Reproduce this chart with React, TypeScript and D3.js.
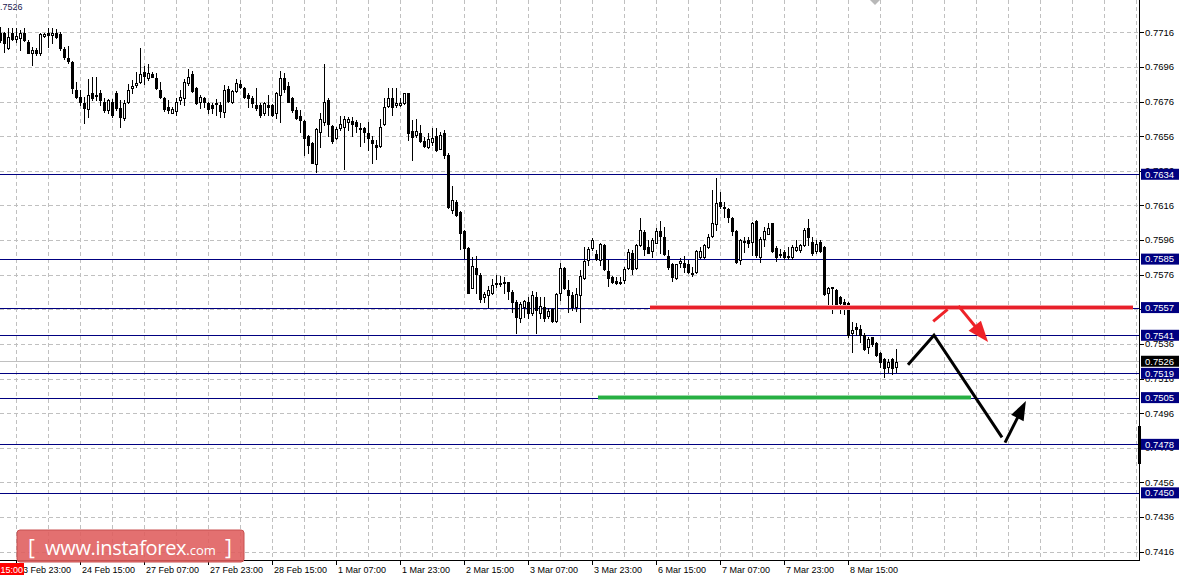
import * as d3 from "d3";

// AUDUSD H1 candles, one bar every 4px
const opens = [
  0.77154, 0.77154, 0.77067, 0.77154, 0.77123, 0.77125, 0.77158, 0.77106, 0.77039, 0.77058,
  0.77039, 0.77139, 0.77154, 0.77146, 0.77154, 0.7715, 0.77062, 0.7701, 0.7699, 0.76827,
  0.76788, 0.76754, 0.76715, 0.76808, 0.768, 0.76808, 0.76759, 0.76711, 0.76759, 0.76808,
  0.76721, 0.76663, 0.76759, 0.76836, 0.76856, 0.76875, 0.76933, 0.76894, 0.76919, 0.76894,
  0.76827, 0.76779, 0.76727, 0.76696, 0.76707, 0.76769, 0.76779, 0.76865, 0.76919, 0.76836,
  0.76759, 0.76779, 0.7675, 0.7674, 0.7675, 0.7674, 0.76702, 0.76831, 0.76759, 0.76823,
  0.76861, 0.7684, 0.76798, 0.76779, 0.7674, 0.7674, 0.76692, 0.7674, 0.7674, 0.76692,
  0.76798, 0.76894, 0.7685, 0.76779, 0.76711, 0.76677, 0.7665, 0.76561, 0.76519, 0.764,
  0.76586, 0.76644, 0.76769, 0.76619, 0.76548, 0.76605, 0.76615, 0.76644, 0.76648, 0.76644,
  0.76607, 0.76605, 0.76577, 0.76538, 0.76509, 0.76503, 0.7663, 0.76734, 0.76783, 0.76738,
  0.7674, 0.76754, 0.76808, 0.7659, 0.76567, 0.76577, 0.76534, 0.76496, 0.76528, 0.76561,
  0.76488, 0.7658, 0.76451, 0.76134, 0.76182, 0.76124, 0.76012, 0.75912, 0.75685, 0.75797,
  0.75758, 0.75629, 0.75643, 0.75656, 0.7571, 0.7571, 0.75716, 0.75716, 0.75662, 0.75604,
  0.75508, 0.75572, 0.75604, 0.75537, 0.75629, 0.75537, 0.75576, 0.75522, 0.7556, 0.75495,
  0.75653, 0.75797, 0.75672, 0.75643, 0.75576, 0.75643, 0.75739, 0.75845, 0.75912, 0.7588,
  0.75845, 0.75932, 0.75783, 0.75745, 0.75726, 0.75718, 0.7573, 0.75797, 0.75884, 0.75797,
  0.75931, 0.76008, 0.75918, 0.75899, 0.75945, 0.76014, 0.75976, 0.75868, 0.75822, 0.75739,
  0.75826, 0.75826, 0.7582, 0.75772, 0.75778, 0.7586, 0.7586, 0.75922, 0.75983, 0.76053,
  0.76182, 0.76153, 0.76137, 0.76086, 0.76012, 0.75845, 0.75951, 0.7596, 0.75951, 0.7607,
  0.7586, 0.75964, 0.75995, 0.76057, 0.75912, 0.75874, 0.75893, 0.75868, 0.7586, 0.75903,
  0.75903, 0.75932, 0.76028, 0.75951, 0.75899, 0.75951, 0.75918, 0.75656, 0.75681, 0.75672,
  0.75629, 0.75604, 0.75598, 0.75421, 0.7546, 0.75444, 0.75412, 0.7534, 0.75398, 0.75367,
  0.7531, 0.75271, 0.75229, 0.75271, 0.75229,
];
const highs = [
  0.77192, 0.77164, 0.77183, 0.77183, 0.77183, 0.77173, 0.77183, 0.77116, 0.77073, 0.77067,
  0.77158, 0.77158, 0.77183, 0.77183, 0.77177, 0.77164, 0.77077, 0.77081, 0.76996, 0.76875,
  0.76827, 0.76788, 0.76888, 0.769, 0.76904, 0.76827, 0.76779, 0.76773, 0.76773, 0.76823,
  0.76769, 0.76769, 0.76861, 0.76885, 0.76933, 0.77067, 0.76965, 0.76977, 0.76933, 0.76923,
  0.76875, 0.76788, 0.76769, 0.76731, 0.76783, 0.76827, 0.76888, 0.76946, 0.76938, 0.76842,
  0.76798, 0.76784, 0.76759, 0.76754, 0.76773, 0.76759, 0.76856, 0.7685, 0.76827, 0.76888,
  0.76885, 0.76846, 0.76808, 0.76792, 0.76836, 0.7675, 0.76758, 0.76798, 0.76746, 0.76817,
  0.76938, 0.76923, 0.76875, 0.76784, 0.76727, 0.76711, 0.76654, 0.76567, 0.76529, 0.76606,
  0.76692, 0.76977, 0.76779, 0.76625, 0.76611, 0.76677, 0.76677, 0.76673, 0.76669, 0.76654,
  0.76634, 0.76615, 0.76644, 0.76561, 0.76538, 0.76657, 0.76779, 0.76836, 0.76836, 0.76836,
  0.76779, 0.76812, 0.76812, 0.76654, 0.76657, 0.76625, 0.76557, 0.76577, 0.76605, 0.76605,
  0.76586, 0.76596, 0.76461, 0.76272, 0.76192, 0.7613, 0.76018, 0.75918, 0.75864, 0.75868,
  0.75772, 0.75662, 0.75695, 0.75733, 0.75758, 0.75753, 0.75745, 0.7572, 0.75672, 0.75614,
  0.75604, 0.75614, 0.75633, 0.75668, 0.75662, 0.75633, 0.75633, 0.75566, 0.75566, 0.75653,
  0.75826, 0.75807, 0.7573, 0.75662, 0.75681, 0.75787, 0.75918, 0.75922, 0.75974, 0.75903,
  0.75941, 0.75935, 0.75845, 0.75753, 0.75745, 0.75749, 0.75803, 0.75911, 0.75903, 0.75937,
  0.76085, 0.76018, 0.7596, 0.7597, 0.76028, 0.76072, 0.76037, 0.75903, 0.75826, 0.75822,
  0.75855, 0.75868, 0.75845, 0.75802, 0.75903, 0.75922, 0.75937, 0.75995, 0.76249, 0.76317,
  0.7624, 0.76182, 0.76143, 0.76095, 0.76018, 0.75964, 0.7598, 0.7598, 0.76066, 0.76076,
  0.7598, 0.76037, 0.76057, 0.7606, 0.75926, 0.75907, 0.75903, 0.75918, 0.75932, 0.7596,
  0.75937, 0.76028, 0.7608, 0.7598, 0.7596, 0.7596, 0.75926, 0.75687, 0.75687, 0.75675,
  0.75637, 0.75618, 0.75604, 0.75489, 0.75483, 0.75469, 0.75421, 0.75402, 0.75402, 0.75373,
  0.75315, 0.75277, 0.75271, 0.75277, 0.75329,
];
const lows = [
  0.77106, 0.77048, 0.77062, 0.77116, 0.77106, 0.77058, 0.77112, 0.77039, 0.76971, 0.77029,
  0.77029, 0.77135, 0.77077, 0.77096, 0.77125, 0.77058, 0.77004, 0.76981, 0.76808, 0.76779,
  0.7674, 0.76638, 0.76673, 0.76769, 0.76769, 0.7674, 0.76702, 0.76696, 0.76673, 0.76711,
  0.76615, 0.76654, 0.7675, 0.76808, 0.76846, 0.76869, 0.76861, 0.76885, 0.769, 0.76831,
  0.76779, 0.76707, 0.76692, 0.76692, 0.76682, 0.76746, 0.7674, 0.76856, 0.76817, 0.76746,
  0.76721, 0.76731, 0.76692, 0.76692, 0.76682, 0.76673, 0.76673, 0.76759, 0.7675, 0.76817,
  0.76836, 0.76779, 0.76731, 0.76731, 0.76711, 0.76673, 0.76682, 0.76682, 0.76677, 0.76663,
  0.76644, 0.76817, 0.76759, 0.76702, 0.76657, 0.76586, 0.76452, 0.76461, 0.76403, 0.76355,
  0.765, 0.76625, 0.76561, 0.76519, 0.76542, 0.76596, 0.76369, 0.76596, 0.76561, 0.76586,
  0.76503, 0.76528, 0.7648, 0.76407, 0.76426, 0.765, 0.76625, 0.76731, 0.76682, 0.76731,
  0.76734, 0.76746, 0.76538, 0.76423, 0.76553, 0.76528, 0.765, 0.7649, 0.76509, 0.76476,
  0.76484, 0.76432, 0.76143, 0.76114, 0.76099, 0.75907, 0.75855, 0.75653, 0.75681, 0.75653,
  0.75604, 0.75604, 0.75576, 0.75649, 0.75687, 0.75695, 0.75653, 0.75618, 0.75547, 0.75422,
  0.75489, 0.75514, 0.75508, 0.75527, 0.75425, 0.75508, 0.75495, 0.75508, 0.75489, 0.75489,
  0.75614, 0.75676, 0.75547, 0.75556, 0.75552, 0.75489, 0.75733, 0.75816, 0.75903, 0.75845,
  0.75816, 0.75787, 0.75695, 0.7571, 0.75706, 0.75706, 0.7571, 0.75791, 0.75764, 0.75791,
  0.75926, 0.75874, 0.75883, 0.75864, 0.75941, 0.75883, 0.75874, 0.75791, 0.75726, 0.75733,
  0.75806, 0.75778, 0.75768, 0.75752, 0.75768, 0.75855, 0.75855, 0.75912, 0.7598, 0.76018,
  0.76143, 0.76095, 0.76066, 0.75989, 0.75829, 0.75822, 0.75893, 0.75922, 0.75874, 0.7586,
  0.75835, 0.75926, 0.75995, 0.75893, 0.75841, 0.7586, 0.75849, 0.75849, 0.75849, 0.75899,
  0.75893, 0.75926, 0.75932, 0.75874, 0.75883, 0.75893, 0.75643, 0.7557, 0.75537, 0.75566,
  0.75537, 0.75533, 0.75402, 0.75315, 0.75412, 0.75373, 0.75325, 0.7531, 0.75348, 0.7529,
  0.75229, 0.75167, 0.752, 0.75186, 0.752,
];
const closes = [
  0.77116, 0.77096, 0.77135, 0.77119, 0.77139, 0.77154, 0.77116, 0.77042, 0.77058, 0.77039,
  0.7715, 0.7715, 0.77146, 0.77154, 0.77135, 0.77067, 0.77015, 0.76996, 0.76836, 0.76788,
  0.76756, 0.76721, 0.76798, 0.76783, 0.76796, 0.76769, 0.76711, 0.76769, 0.76682, 0.76721,
  0.76673, 0.7675, 0.76827, 0.7685, 0.76869, 0.76919, 0.76908, 0.76927, 0.76904, 0.76836,
  0.76784, 0.76715, 0.76711, 0.76715, 0.76759, 0.76784, 0.76875, 0.76904, 0.76823, 0.7675,
  0.76784, 0.76759, 0.76715, 0.76721, 0.76746, 0.76707, 0.76827, 0.76765, 0.76823, 0.76865,
  0.76846, 0.76784, 0.76779, 0.7675, 0.76721, 0.76682, 0.7675, 0.76731, 0.76682, 0.76808,
  0.76894, 0.76831, 0.76759, 0.76711, 0.76663, 0.76654, 0.76548, 0.76509, 0.76407, 0.766,
  0.76657, 0.76756, 0.7663, 0.76534, 0.766, 0.7663, 0.76657, 0.76657, 0.7663, 0.76619,
  0.766, 0.76586, 0.76548, 0.76519, 0.76496, 0.76615, 0.76727, 0.76779, 0.76727, 0.7675,
  0.7675, 0.76808, 0.76577, 0.76557, 0.7659, 0.76534, 0.76503, 0.76542, 0.76552, 0.7648,
  0.76567, 0.76452, 0.76149, 0.76192, 0.76105, 0.75999, 0.75912, 0.75656, 0.7581, 0.75764,
  0.75618, 0.75649, 0.75672, 0.75701, 0.75714, 0.75714, 0.7571, 0.75668, 0.75604, 0.75518,
  0.75591, 0.7561, 0.75537, 0.75643, 0.75556, 0.75579, 0.75508, 0.75552, 0.75495, 0.75649,
  0.75797, 0.75681, 0.75643, 0.75576, 0.75649, 0.75753, 0.75839, 0.75907, 0.75961, 0.75849,
  0.75935, 0.75791, 0.75739, 0.75718, 0.75714, 0.75714, 0.75793, 0.75891, 0.75791, 0.75932,
  0.76018, 0.75906, 0.75887, 0.7596, 0.76012, 0.75983, 0.7588, 0.75806, 0.75749, 0.7582,
  0.75841, 0.75806, 0.75778, 0.75768, 0.75899, 0.75899, 0.75932, 0.75976, 0.76057, 0.76172,
  0.76157, 0.76149, 0.76095, 0.76014, 0.75835, 0.7596, 0.75955, 0.75945, 0.76057, 0.75874,
  0.75964, 0.76014, 0.76028, 0.75899, 0.75864, 0.7588, 0.7586, 0.75864, 0.75918, 0.75918,
  0.75932, 0.76018, 0.7598, 0.75887, 0.75937, 0.75899, 0.75649, 0.75681, 0.75687, 0.75585,
  0.75598, 0.75579, 0.75412, 0.75441, 0.75444, 0.75412, 0.75329, 0.75387, 0.7536, 0.75296,
  0.75258, 0.75219, 0.75258, 0.75219, 0.75258,
];

const priceTicks = [
  0.7716, 0.7696, 0.7676, 0.7656, 0.7636, 0.7616, 0.7596, 0.7576,
  0.7556, 0.7536, 0.7516, 0.7496, 0.7476, 0.7456, 0.7436, 0.7416,
];
const timeLabels = [
  "23 Feb 23:00", "24 Feb 15:00", "27 Feb 07:00", "27 Feb 23:00", "28 Feb 15:00",
  "1 Mar 07:00", "1 Mar 23:00", "2 Mar 15:00", "3 Mar 07:00", "3 Mar 23:00",
  "6 Mar 15:00", "7 Mar 07:00", "7 Mar 23:00", "8 Mar 15:00",
];
const levels = [0.7634, 0.7585, 0.7557, 0.7541, 0.7519, 0.7505, 0.7478, 0.745];
const lastPrice = 0.7526;

// hand drawn forecast marks, as [bar, price]
const redLine: [number, number][] = [[162.5, 0.7557], [283.25, 0.7557]];
const greenLine: [number, number][] = [[149.5, 0.7505], [242.75, 0.7505]];
const blackPath: [number, number][] = [[227, 0.7524], [233.5, 0.7541], [250.5, 0.7482]];
const blackArrow: [number, number][] = [[251.25, 0.7479], [256.25, 0.7502]];
const redDash: [number, number][] = [[233.3, 0.7549], [236.9, 0.7556]];
const redArrow: [number, number][] = [[239.6, 0.7558], [246.7, 0.7538]];

const W = 1183;
const H = 581;
const axisX = 1139;
const axisY = 560;
const FONT = "'Liberation Sans', Arial, sans-serif";

export default function App() {
  const x = d3.scaleLinear().domain([0, 284.75]).range([0, axisX]);
  const y = d3.scaleLinear().domain([0.7416, 0.7716]).range([551.7, 32.3]);
  const line = d3
    .line<[number, number]>()
    .x((d) => x(d[0]))
    .y((d) => y(d[1]));

  const gridBars = d3.range(4, 285, 8);
  const labelBars = timeLabels.map((_, i) => 4 + i * 16);

  const head = (pts: [number, number][], len: number, half: number) => {
    const [a, b] = pts.slice(-2);
    const x1 = x(a[0]), y1 = y(a[1]), x2 = x(b[0]), y2 = y(b[1]);
    const ang = Math.atan2(y2 - y1, x2 - x1);
    const bx = x2 - len * Math.cos(ang), by = y2 - len * Math.sin(ang);
    const px = -Math.sin(ang) * half, py = Math.cos(ang) * half;
    return `${x2 + 2 * Math.cos(ang)},${y2 + 2 * Math.sin(ang)} ${bx + px},${by + py} ${bx - px},${by - py}`;
  };

  const shaft = (pts: [number, number][], cut: number) => {
    const [a, b] = pts.slice(-2);
    const x1 = x(a[0]), y1 = y(a[1]), x2 = x(b[0]), y2 = y(b[1]);
    const ang = Math.atan2(y2 - y1, x2 - x1);
    return `M${x1},${y1}L${x2 - cut * Math.cos(ang)},${y2 - cut * Math.sin(ang)}`;
  };

  return (
    <svg
      width={W}
      height={H}
      style={{ position: "absolute", left: 0, top: 0, background: "#fff" }}
      fontFamily={FONT}
    >
      <rect width={W} height={H} fill="#fff" />

      {/* grid */}
      <g stroke="#c0c0c0" strokeDasharray="4,3" shapeRendering="crispEdges">
        {gridBars.map((b) => (
          <line key={"v" + b} x1={x(b) + 0.5} x2={x(b) + 0.5} y1={0} y2={axisY} />
        ))}
        {priceTicks.map((p) => (
          <line key={"h" + p} x1={0} x2={axisX} y1={Math.round(y(p)) + 0.5} y2={Math.round(y(p)) + 0.5} />
        ))}
      </g>

      {/* current price line */}
      <line x1={0} x2={axisX} y1={Math.round(y(lastPrice)) + 0.5} y2={Math.round(y(lastPrice)) + 0.5}
        stroke="#c0c0c0" shapeRendering="crispEdges" />

      {/* support / resistance levels */}
      <g stroke="#000080" shapeRendering="crispEdges">
        {levels.map((p) => (
          <line key={p} x1={0} x2={axisX} y1={Math.round(y(p)) + 0.5} y2={Math.round(y(p)) + 0.5} />
        ))}
      </g>

      {/* candles */}
      <g shapeRendering="crispEdges">
        {opens.map((o, i) => {
          const c = closes[i];
          const cx = Math.round(x(i));
          const yh = Math.round(y(highs[i]));
          const yl = Math.round(y(lows[i]));
          const yt = Math.round(y(Math.max(o, c)));
          const yb = Math.max(yt + 1, Math.round(y(Math.min(o, c))));
          const up = c >= o;
          return (
            <g key={i}>
              <line x1={cx + 0.5} x2={cx + 0.5} y1={yh} y2={yl + 1} stroke="#000" />
              {up ? (
                <rect x={cx - 0.5} y={yt + 0.5} width={2} height={Math.max(1, yb - yt)} fill="#fff" stroke="#000" />
              ) : (
                <rect x={cx - 1} y={yt} width={3} height={Math.max(2, yb - yt + 1)} fill="#000" />
              )}
            </g>
          );
        })}
      </g>

      {/* forecast drawings */}
      <path d={line(redLine) ?? ""} stroke="#f4a0a4" strokeWidth={5} fill="none" />
      <path d={line(redLine) ?? ""} stroke="#e8202a" strokeWidth={3} fill="none" />
      <path d={line(greenLine) ?? ""} stroke="#9ad9a8" strokeWidth={5} fill="none" />
      <path d={line(greenLine) ?? ""} stroke="#27b043" strokeWidth={3} fill="none" />
      <path d={line(blackPath) ?? ""} stroke="#000" strokeWidth={3} fill="none" strokeLinejoin="miter" />
      <path d={shaft(blackArrow, 10)} stroke="#000" strokeWidth={3} fill="none" />
      <polygon points={head(blackArrow, 17, 7)} fill="#000" />
      <path d={line(redDash) ?? ""} stroke="#ee2228" strokeWidth={3} fill="none" />
      <path d={shaft(redArrow, 10)} stroke="#ee2228" strokeWidth={3} fill="none" />
      <polygon points={head(redArrow, 19, 8)} fill="#ee2228" />

      {/* axes */}
      <g stroke="#000" shapeRendering="crispEdges">
        <line x1={axisX + 0.5} x2={axisX + 0.5} y1={0} y2={axisY + 1} />
        <line x1={0} x2={axisX + 1} y1={axisY + 0.5} y2={axisY + 0.5} />
        {priceTicks.map((p) => (
          <line key={p} x1={axisX + 1} x2={axisX + 5} y1={Math.round(y(p)) + 0.5} y2={Math.round(y(p)) + 0.5} />
        ))}
        {labelBars.map((b) => (
          <line key={b} x1={x(b) + 0.5} x2={x(b) + 0.5} y1={axisY} y2={axisY + 5} />
        ))}
      </g>
      <rect x={axisX - 1} y={426} width={3} height={38} fill="#000" />

      {/* price labels */}
      <g fontSize={9.5} fill="#000">
        {priceTicks.map((p) => (
          <text key={p} x={axisX + 6} y={y(p)} dy="0.35em">{p.toFixed(4)}</text>
        ))}
      </g>
      {levels.map((p) => (
        <g key={p}>
          <rect x={axisX + 2} y={y(p) - 5.5} width={38} height={11} fill="#000080" />
          <text x={axisX + 6} y={y(p)} dy="0.35em" fontSize={9.5} fill="#fff">{p.toFixed(4)}</text>
        </g>
      ))}
      <rect x={axisX + 2} y={y(lastPrice) - 5.5} width={38} height={11} fill="#000" />
      <text x={axisX + 6} y={y(lastPrice)} dy="0.35em" fontSize={9.5} fill="#fff">{lastPrice.toFixed(4)}</text>

      {/* time labels */}
      <g fontSize={9} fill="#000">
        {labelBars.map((b, i) => (
          <text key={b} x={x(b) + 2} y={axisY + 13}>{timeLabels[i]}</text>
        ))}
      </g>
      <rect x={0} y={axisY + 3} width={24} height={12} fill="#ff0000" />
      <text x={23} y={axisY + 13} fontSize={9} fill="#fff" textAnchor="end">15:00</text>

      {/* top-left price and marker */}
      <text x={-5} y={10} fontSize={9} fill="#1a1a50">{lastPrice.toFixed(4)}</text>
      <polygon points="870,0 880,0 875,5" fill="#b8b8b8" />

      {/* watermark */}
      <rect x={17} y={530} width={227} height={32} rx={3} fill="#df5c5c" fillOpacity={0.88} stroke="#c85050" />
      <text y={555} fill="#fff" fontFamily="'Open Sans', Arial, sans-serif">
        <tspan x={28} fontSize={21}>[</tspan>
        <tspan x={45} fontSize={20} letterSpacing={-0.3}>www.instaforex</tspan>
        <tspan fontSize={13}>.com</tspan>
        <tspan x={225} fontSize={21}>]</tspan>
      </text>
    </svg>
  );
}
